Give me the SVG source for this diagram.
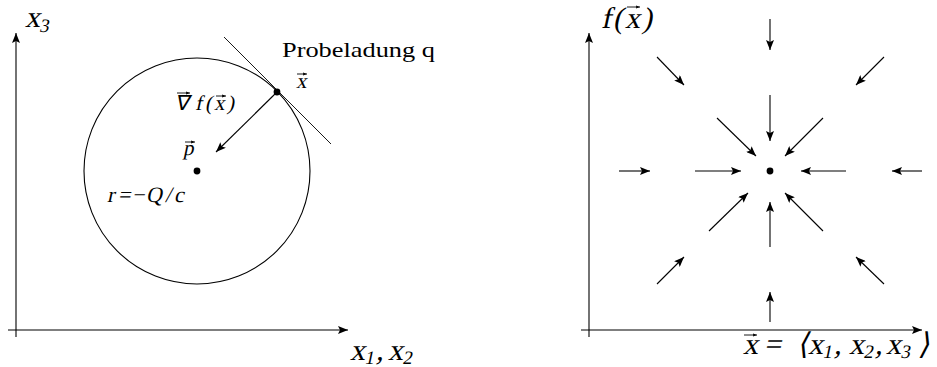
<svg xmlns="http://www.w3.org/2000/svg" width="937" height="367" viewBox="0 0 937 367">
<style>
.ln{stroke:#000;stroke-width:1.1;fill:none}
.ar{stroke:#000;stroke-width:1.1;fill:none;marker-end:url(#ah)}
.acc{stroke:#000;stroke-width:0.9;fill:none;marker-end:url(#ah2)}
.t{font-family:"Liberation Serif","Times New Roman",serif;fill:#000}
</style>
<defs>
<marker id="ah" markerUnits="userSpaceOnUse" viewBox="0 0 10 8" refX="10" refY="4" markerWidth="10" markerHeight="8" orient="auto">
<path d="M0,0 L10,4 L0,8 L2,4 z" fill="#000"/>
</marker>
<marker id="ah2" markerUnits="userSpaceOnUse" viewBox="0 0 10 8" refX="10" refY="4" markerWidth="4.5" markerHeight="3.6" orient="auto">
<path d="M0,0 L10,4 L0,8 L2,4 z" fill="#000"/>
</marker>
</defs>
<g id="left-panel">
<g id="axes-left">
<line class="ar" x1="16" y1="337" x2="16" y2="33"/>
<line class="ar" x1="8" y1="330" x2="348" y2="330"/>
</g>
<g id="circle"><circle cx="197" cy="171" r="113" class="ln" stroke-width="1.4"/></g>
<g id="tangent"><line x1="224" y1="37" x2="331" y2="144" stroke="#000" stroke-width="0.9"/></g>
<g id="gradient-arrow"><line class="ar" x1="277" y1="92" x2="216" y2="152"/></g>
<g id="point-x"><circle cx="277" cy="92" r="3.4" fill="#000"/></g>
<g id="point-p"><circle cx="197" cy="171" r="3.4" fill="#000"/></g>
<g id="labels-left">
<text class="t" font-size="30" transform="translate(25 27) skewX(-12)"><tspan x="0" y="0">x</tspan><tspan font-size="19" x="15" y="5">3</tspan></text>
<text class="t" font-size="30" transform="translate(350 360) skewX(-12)"><tspan x="0" y="0">x</tspan><tspan font-size="19" x="15" y="4">1</tspan><tspan x="26" y="0">,</tspan><tspan x="38" y="0">x</tspan><tspan font-size="19" x="53" y="4">2</tspan></text>
<text class="t" x="282" y="57" font-size="22" textLength="153" lengthAdjust="spacingAndGlyphs">Probeladung q</text>
<text class="t" font-size="21" transform="translate(296 88) skewX(-12)">x</text>
<text class="t" font-size="21" transform="translate(175 110) skewX(-12)"><tspan x="0" y="0">∇</tspan><tspan x="20" y="0">f</tspan><tspan x="30" y="0">(</tspan><tspan x="39" y="0">x</tspan><tspan x="52" y="0">)</tspan></text>
<text class="t" font-size="21" transform="translate(183 155) skewX(-12)">p</text>
<text class="t" font-size="22" transform="translate(107 202) skewX(-12)"><tspan x="0" y="0">r</tspan><tspan x="11" y="0">=</tspan><tspan x="25" y="0">−</tspan><tspan x="39" y="0">Q</tspan><tspan x="58" y="0">/</tspan><tspan x="67" y="0">c</tspan></text>
</g>
<g id="vector-accents-left">
<line class="acc" x1="297" y1="74" x2="307" y2="74"/>
<line class="acc" x1="177" y1="93" x2="190" y2="93"/>
<line class="acc" x1="216" y1="96" x2="226" y2="96"/>
<line class="acc" x1="185" y1="142" x2="195" y2="142"/>
</g>
</g>
<g id="right-panel">
<g id="axes-right">
<line class="ar" x1="589" y1="337" x2="589" y2="33"/>
<line class="ar" x1="581" y1="330" x2="922" y2="330"/>
</g>
<g id="center-dot"><circle cx="770" cy="171" r="3.4" fill="#000"/></g>
<g id="field-arrows">
<line class="ar" x1="770" y1="19" x2="770" y2="50"/>
<line class="ar" x1="770" y1="95" x2="770" y2="141"/>
<line class="ar" x1="770" y1="247" x2="770" y2="202"/>
<line class="ar" x1="770" y1="322" x2="770" y2="292"/>
<line class="ar" x1="619" y1="171" x2="650" y2="171"/>
<line class="ar" x1="695" y1="171" x2="741" y2="171"/>
<line class="ar" x1="846" y1="171" x2="801" y2="171"/>
<line class="ar" x1="922" y1="171" x2="892" y2="171"/>
<line class="ar" x1="657" y1="57" x2="684" y2="85"/>
<line class="ar" x1="884" y1="57" x2="856" y2="85"/>
<line class="ar" x1="657" y1="284" x2="684" y2="257"/>
<line class="ar" x1="884" y1="284" x2="856" y2="257"/>
<line class="ar" x1="717" y1="118" x2="756" y2="156"/>
<line class="ar" x1="823" y1="118" x2="785" y2="156"/>
<line class="ar" x1="709" y1="231" x2="748" y2="193"/>
<line class="ar" x1="823" y1="231" x2="785" y2="193"/>
</g>
<g id="labels-right">
<text class="t" font-size="30" transform="translate(601 28) skewX(-12)"><tspan x="0" y="0">f</tspan><tspan x="12" y="0">(</tspan><tspan x="24" y="0">x</tspan><tspan x="41" y="0">)</tspan></text>
<text class="t" font-size="30" transform="translate(743 354) skewX(-12)"><tspan x="0" y="0">x</tspan><tspan x="21" y="0">=</tspan><tspan x="54" y="0">⟨</tspan><tspan x="65" y="0">x</tspan><tspan font-size="19" x="80" y="4">1</tspan><tspan x="91" y="0">,</tspan><tspan x="106" y="0">x</tspan><tspan font-size="19" x="121" y="4">2</tspan><tspan x="132" y="0">,</tspan><tspan x="143" y="0">x</tspan><tspan font-size="19" x="158" y="4">3</tspan><tspan x="175" y="0">⟩</tspan></text>
</g>
<g id="vector-accents-right">
<line class="acc" x1="627" y1="7" x2="640" y2="7"/>
<line class="acc" x1="744" y1="335" x2="757" y2="335"/>
</g>
</g>
</svg>
